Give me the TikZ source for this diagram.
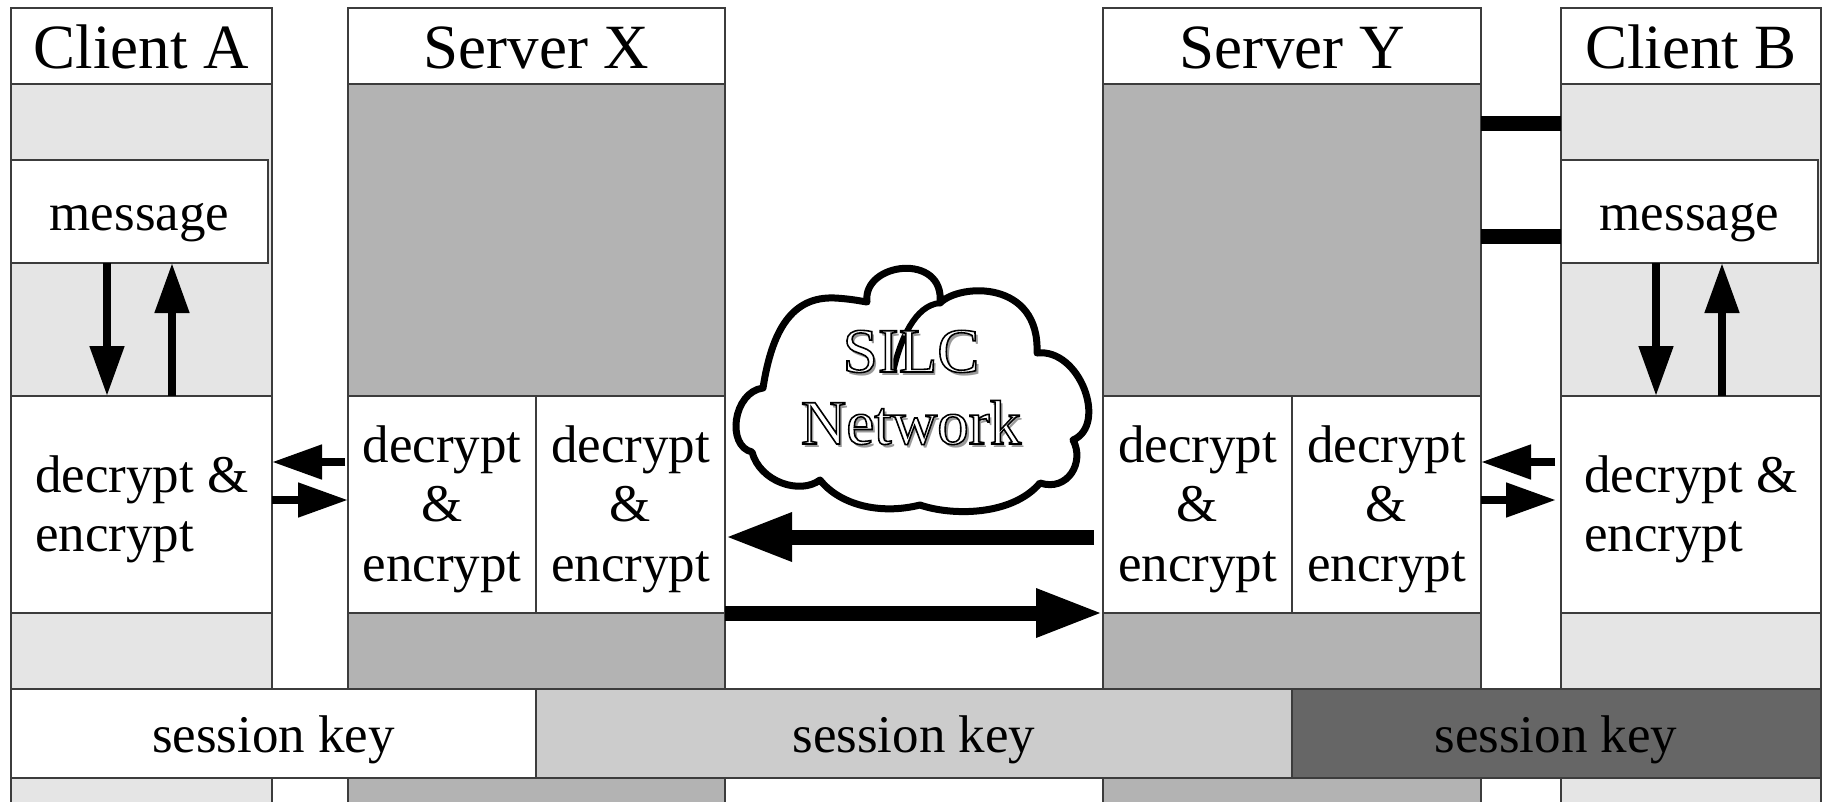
\documentclass[tikz,border=0pt]{standalone}
\usepackage{fontspec}
\setmainfont{Liberation Serif}
\newfontfamily\outlinefont{Liberation Serif}[FakeBold=2.5]
\usetikzlibrary{arrows.meta,calc}

\definecolor{clientfill}{HTML}{E5E5E5}
\definecolor{serverfill}{HTML}{B3B3B3}
\definecolor{keymid}{HTML}{CCCCCC}
\definecolor{keydark}{HTML}{666666}
\definecolor{edge}{HTML}{3C3C3C}
\definecolor{shade}{HTML}{9A9A9A}

% hollow lettering (white fill, black stroke) with a soft drop shadow
\newcommand\hollowtext[1]{\rlap{\kern3pt\raisebox{-3pt}{\textcolor{shade}{#1}}}{\outlinefont\special{pdf:bcolor [1] [0]}#1\special{pdf:ecolor}}}

\begin{document}
\begin{tikzpicture}[x=1pt,y=-1pt,
  panel/.style={draw=edge,line width=1.3pt,inner sep=0pt,outer sep=0pt,anchor=north west,rectangle},
  title/.style={anchor=base,inner sep=0pt,font=\fontsize{63}{70}\selectfont},
  label/.style={anchor=base,inner sep=0pt,font=\fontsize{53}{59.5}\selectfont},
  thin arrow/.style={line width=8pt,-{Triangle[length=50pt,width=33pt]}},
  thick arrow/.style={line width=15pt,-{Triangle[length=67pt,width=45pt]}},
  link/.style={line width=15pt},
]
\useasboundingbox (0,0) rectangle (1827,801);

% ---- columns ----
\node[panel,fill=clientfill,minimum width=261pt,minimum height=726pt] (colA) at (11,84) {};
\node[panel,fill=serverfill,minimum width=377pt,minimum height=726pt] (colX) at (348,84) {};
\node[panel,fill=serverfill,minimum width=378pt,minimum height=726pt] (colY) at (1103,84) {};
\node[panel,fill=clientfill,minimum width=260pt,minimum height=726pt] (colB) at (1561,84) {};

% ---- headers ----
\node[panel,fill=white,minimum width=261pt,minimum height=76pt] (hdrA) at (11,8) {};
\node[panel,fill=white,minimum width=377pt,minimum height=76pt] (hdrX) at (348,8) {};
\node[panel,fill=white,minimum width=378pt,minimum height=76pt] (hdrY) at (1103,8) {};
\node[panel,fill=white,minimum width=260pt,minimum height=76pt] (hdrB) at (1561,8) {};

% ---- message boxes ----
\node[panel,fill=white,minimum width=257pt,minimum height=103pt] (msgA) at (11,160) {};
\node[panel,fill=white,minimum width=257pt,minimum height=103pt] (msgB) at (1561,160) {};

% ---- crypto boxes ----
\node[panel,fill=white,minimum width=261pt,minimum height=217pt] (decA) at (11,396) {};
\node[panel,fill=white,minimum width=188pt,minimum height=217pt] (decXl) at (348,396) {};
\node[panel,fill=white,minimum width=189pt,minimum height=217pt] (decXr) at (536,396) {};
\node[panel,fill=white,minimum width=189pt,minimum height=217pt] (decYl) at (1103,396) {};
\node[panel,fill=white,minimum width=189pt,minimum height=217pt] (decYr) at (1292,396) {};
\node[panel,fill=white,minimum width=260pt,minimum height=217pt] (decB) at (1561,396) {};

% ---- session key band ----
\node[panel,fill=white,minimum width=525pt,minimum height=89pt] (keyA) at (11,689) {};
\node[panel,fill=keymid,minimum width=756pt,minimum height=89pt] (keyM) at (536,689) {};
\node[panel,fill=keydark,minimum width=529pt,minimum height=89pt] (keyD) at (1292,689) {};

% ---- texts ----
\node[title] (tA) at (141.5,68) {Client A};
\node[title] (tX) at (536.5,68) {Server X};
\node[title] (tY) at (1292,68) {Server Y};
\node[title] (tB) at (1691,68) {Client B};

\node[label] (mA) at (139.5,230) {message};
\node[label] (mB) at (1689.5,230) {message};

\node[label,anchor=base west] (cA) at (35,492) {\begin{tabular}[t]{@{}l@{}}decrypt \&\\encrypt\end{tabular}};
\node[label,anchor=base west] (cB) at (1584,492) {\begin{tabular}[t]{@{}l@{}}decrypt \&\\encrypt\end{tabular}};

\node[label] (sXl) at (442,462) {\begin{tabular}[t]{@{}c@{}}decrypt\\\&\\encrypt\end{tabular}};
\node[label] (sXr) at (630.5,462) {\begin{tabular}[t]{@{}c@{}}decrypt\\\&\\encrypt\end{tabular}};
\node[label] (sYl) at (1197.5,462) {\begin{tabular}[t]{@{}c@{}}decrypt\\\&\\encrypt\end{tabular}};
\node[label] (sYr) at (1386.5,462) {\begin{tabular}[t]{@{}c@{}}decrypt\\\&\\encrypt\end{tabular}};

\node[label] (kA) at (273.5,752) {session key};
\node[label] (kM) at (914,752) {session key};
\node[label] (kD) at (1556,752) {session key};

% ---- arrows between clients and servers ----
\draw[thin arrow] ($(decXl.west|-0,462)+(-3,0)$) -- (decA.east|-0,462);
\draw[thin arrow] (decA.east|-0,500) -- (decXl.west|-0,500);
\draw[thin arrow] ($(decB.west|-0,462)+(-6,0)$) -- (decYr.east|-0,462);
\draw[thin arrow] (decYr.east|-0,500) -- ($(decB.west|-0,500)+(-5,0)$);

% ---- arrows between message and crypto boxes ----
\draw[thin arrow] (msgA.south-|107,0) -- (decA.north-|107,0);
\draw[thin arrow] (decA.north-|172,0) -- (msgA.south-|172,0);
\draw[thin arrow] (msgB.south-|1656,0) -- (decB.north-|1656,0);
\draw[thin arrow] (decB.north-|1722,0) -- (msgB.south-|1722,0);

% ---- arrows between the servers ----
\draw[thick arrow] ($(decYl.west|-0,537)+(-9,0)$) -- (decXr.east|-0,537);
\draw[thick arrow] (decXr.east|-0,613) -- (decYl.west|-0,613);

% ---- links from Server Y to Client B ----
\draw[link] (colY.east|-0,123) -- (colB.west|-0,123);
\draw[link] (colY.east|-0,236) -- (colB.west|-0,236);

% ---- network cloud ----
\draw[line width=7pt,line join=round,fill=white]
  (763,388) .. controls (772,330) and (792,296) .. (835,298)
            .. controls (852,299) and (860,301) .. (867,302)
            .. controls (862,262) and (945,252) .. (940,303)
            .. controls (960,283) and (1040,280) .. (1037,353)
            .. controls (1080,348) and (1108,425) .. (1073,440)
            .. controls (1085,462) and (1068,492) .. (1040,483)
            .. controls (1012,516) and (952,516) .. (920,505)
            .. controls (880,515) and (840,505) .. (820,480)
            .. controls (800,495) and (760,482) .. (752,452)
            .. controls (726,446) and (733,392) .. (763,388) -- cycle;
\draw[line width=6pt,line cap=round] (940,303) .. controls (915,305) and (900,340) .. (893,372);

\node[anchor=base,inner sep=0pt,font=\fontsize{63}{72}\selectfont] (net1) at (911,372) {\hollowtext{SILC}};
\node[anchor=base,inner sep=0pt,font=\fontsize{63}{72}\selectfont] (net2) at (911,444) {\hollowtext{Network}};
\end{tikzpicture}
\end{document}
